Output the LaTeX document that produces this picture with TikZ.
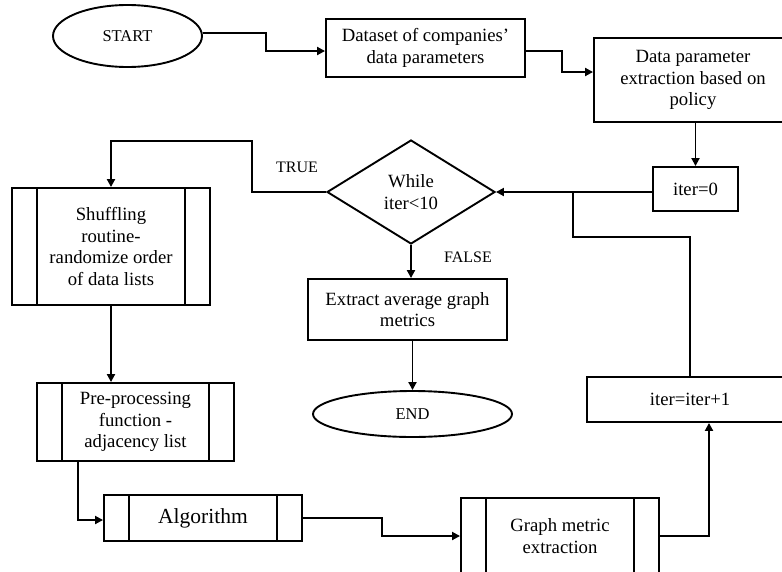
\documentclass[tikz,border=0pt]{standalone}
\usepackage{fontspec}
\setmainfont{Liberation Serif}
\usetikzlibrary{shapes.geometric,arrows.meta,calc}
\begin{document}
\begin{tikzpicture}[x=1pt,y=-1pt,
  line width=1.9pt,
  base/.style={draw, line width=1.9pt, align=center, inner sep=0pt,
    font=\fontsize{18.7}{21.5}\selectfont},
  box/.style={base, rectangle},
  subproc/.style={box, path picture={
      \draw[line width=1.9pt]
        ([xshift=25pt]path picture bounding box.north west) -- ([xshift=25pt]path picture bounding box.south west)
        ([xshift=-25pt]path picture bounding box.north east) -- ([xshift=-25pt]path picture bounding box.south east);}},
  term/.style={base, ellipse, font=\fontsize{16.5}{20}\selectfont},
  decide/.style={base, diamond},
  arr/.style={-{Triangle[length=8pt,width=8pt]}, line width=1.9pt},
  lbl/.style={font=\fontsize{16}{19}\selectfont}
]
\useasboundingbox (0,0) rectangle (782,571);
\clip (0,0) rectangle (782,571);

% process steps
\node[term, minimum width=149pt, minimum height=62pt] (start) at (127.5,36) {START};
\node[box, minimum width=199pt, minimum height=58pt] (data) at (425.5,48) {Dataset of companies'\\data parameters};
\node[box, minimum width=198pt, minimum height=84pt] (extr) at (693,80) {Data parameter\\extraction based on\\policy};
\node[box, minimum width=85pt, minimum height=44pt] (iz) at (695.5,189) {iter=0};
\node[decide, minimum width=168pt, minimum height=104pt] (loop) at (411,192) {While\\iter<10};
\node[subproc, minimum width=198pt, minimum height=117pt] (shuf) at (111,246.5) {Shuffling\\routine-\\randomize order\\of data lists};
\node[box, minimum width=199pt, minimum height=61pt] (avg) at (407.5,309.5) {Extract average graph\\metrics};
\node[term, minimum width=199pt, minimum height=46pt] (end) at (412.5,414) {END};
\node[box, minimum width=206pt, minimum height=45pt] (inc) at (690,399.5) {iter=iter+1};
\node[subproc, minimum width=197pt, minimum height=78pt] (pre) at (135.5,422) {Pre-processing\\function~-\\adjacency list};
\node[subproc, minimum width=198pt, minimum height=46pt, font=\fontsize{21.5}{25}\selectfont] (alg) at (203,518) {Algorithm};
\node[subproc, minimum width=198pt, minimum height=76pt] (gm) at (560,536) {Graph metric\\extraction};

% branch labels
\node[lbl] (tt) at (297,167) {TRUE};
\node[lbl] (ff) at (468,257) {FALSE};

% bend points
\coordinate (tA) at (252,141);
\coordinate (jA) at (573,237);

% connectors
\draw[arr] ([yshift=3pt]start.east) -- ++(63,0) |- ([yshift=-3pt]data.west);
\draw[arr] ([yshift=-3pt]data.east) -- ++(36,0) |- ([yshift=8pt]extr.west);
\draw[arr] (iz.north |- extr.south) -- (iz.north);
\draw[arr] (loop.east -| iz.west) -- (loop.east);
\draw (inc.north) |- (jA) -- (jA |- loop.east);
\draw[arr] (loop.west) -| (tA) -| (shuf.north);
\draw[arr] (loop.south) -- (loop.south |- avg.north);
\draw[arr] (end.north |- avg.south) -- (end.north);
\draw[arr] (shuf.south) -- (shuf.south |- pre.north);
\draw[arr] ([xshift=42pt]pre.south west) |- ([yshift=-2pt]alg.west);
\draw[arr] (alg.east) -- ++(79,0) |- (gm.west);
\draw[arr] (gm.east) -| ([xshift=19pt]inc.south);
\end{tikzpicture}
\end{document}
